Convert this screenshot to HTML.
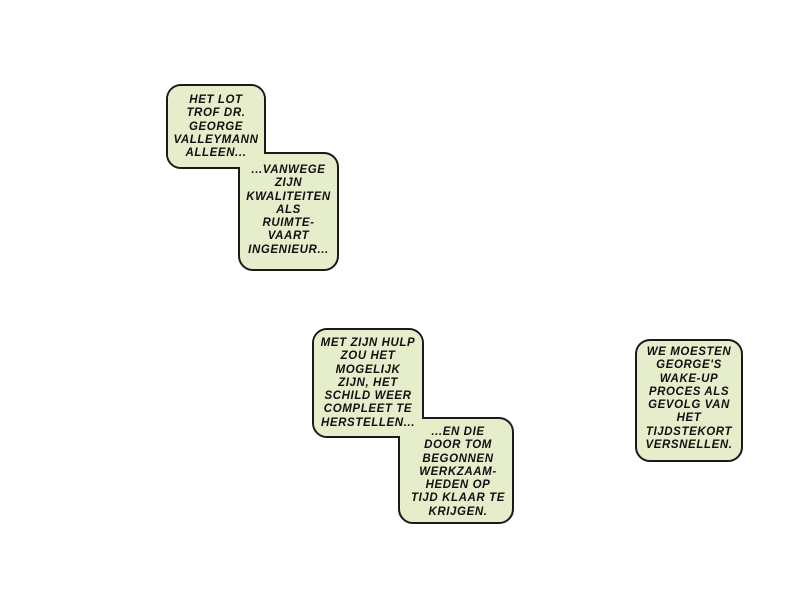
<!DOCTYPE html>
<html><head><meta charset="utf-8"><style>
body{margin:0;width:800px;height:600px;background:#fff;position:relative;overflow:hidden}
.b{position:absolute;background:#e6edcb;border:2px solid #1a1a1a;border-radius:15px;box-sizing:border-box}
.f{position:absolute;background:#e6edcb;border-radius:13px}
.t{position:absolute;font-family:"Liberation Sans",sans-serif;font-weight:bold;font-style:italic;font-size:11.5px;line-height:13.3px;text-align:center;color:#111;letter-spacing:0.6px;white-space:nowrap}
</style></head><body>
<div class="b" style="left:166px;top:84px;width:100px;height:85px"></div>
<div class="b" style="left:238px;top:152px;width:101px;height:119px"></div>
<div class="f" style="left:168px;top:86px;width:96px;height:81px"></div>
<div class="t" style="left:166px;top:94px;width:100px">HET LOT<br>TROF DR.<br>GEORGE<br>VALLEYMANN<br>ALLEEN...</div>
<div class="t" style="left:238px;top:164px;width:101px">...VANWEGE<br>ZIJN<br>KWALITEITEN<br>ALS<br>RUIMTE-<br>VAART<br>INGENIEUR...</div>

<div class="b" style="left:312px;top:328px;width:112px;height:110px"></div>
<div class="b" style="left:398px;top:417px;width:116px;height:107px"></div>
<div class="f" style="left:314px;top:330px;width:108px;height:106px"></div>
<div class="t" style="left:312px;top:337px;width:112px">MET ZIJN HULP<br>ZOU HET<br>MOGELIJK<br>ZIJN, HET<br>SCHILD WEER<br>COMPLEET TE<br>HERSTELLEN...</div>
<div class="t" style="left:400px;top:426px;width:116px">...EN DIE<br>DOOR TOM<br>BEGONNEN<br>WERKZAAM-<br>HEDEN OP<br>TIJD KLAAR TE<br>KRIJGEN.</div>

<div class="b" style="left:635px;top:339px;width:108px;height:123px"></div>
<div class="t" style="left:635px;top:346px;width:108px">WE MOESTEN<br>GEORGE'S<br>WAKE-UP<br>PROCES ALS<br>GEVOLG VAN<br>HET<br>TIJDSTEKORT<br>VERSNELLEN.</div>
</body></html>
